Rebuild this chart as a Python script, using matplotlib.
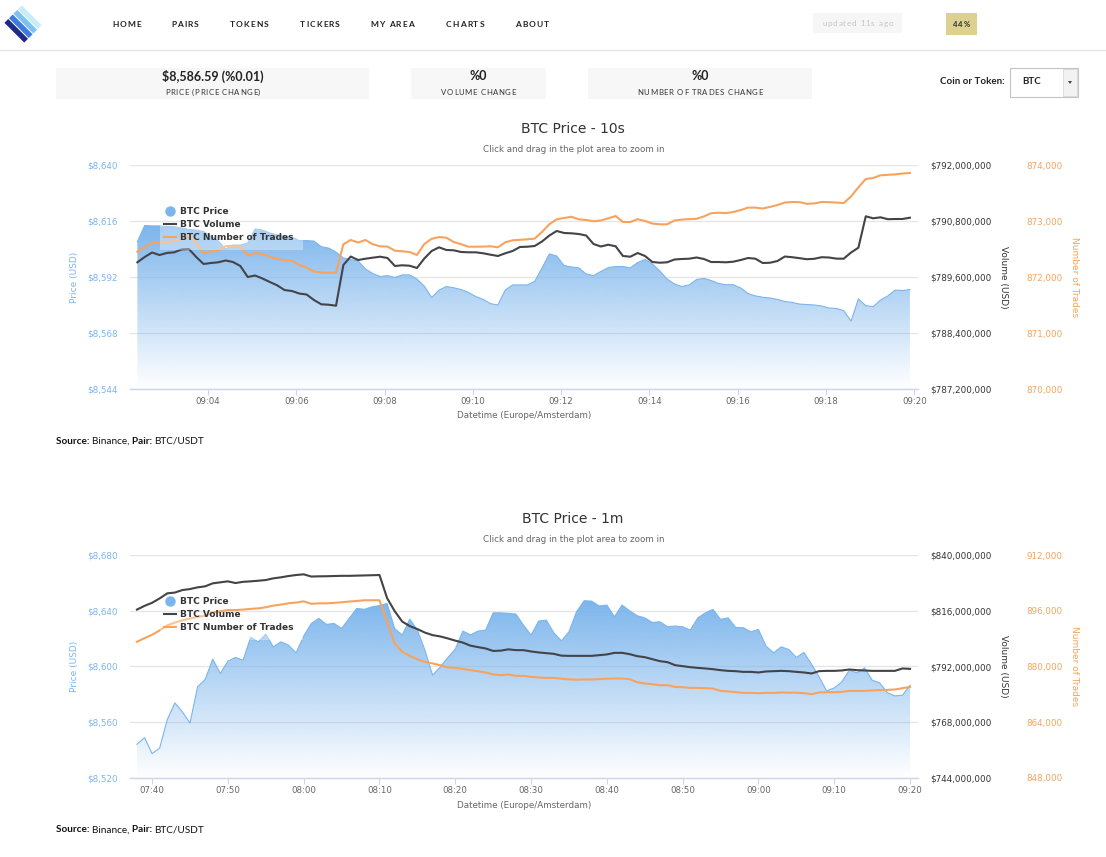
import matplotlib

matplotlib.use("Agg")
import matplotlib.dates as mdates
import matplotlib.pyplot as plt
import numpy as np
import pandas as pd
from matplotlib.colors import to_rgb
from matplotlib.lines import Line2D
from matplotlib.patches import Polygon, Rectangle
from matplotlib.ticker import FixedLocator, FuncFormatter

W, H = 1106, 857
PAGE_FONT = "Lato"
CHART_FONT = "DejaVu Sans"
PRICE_C = "#7cb5ec"
VOL_C = "#434348"
TRADES_C = "#f7a35c"

# ---- 10 second candles (09:02:24 .. 09:19:54) ----
top_start = "2020-02-21 09:02:24"
top_price = [
    8607.1, 8614.1, 8613.9, 8613.9, 8613.6, 8613.6, 8613.0, 8612.4, 8612.1, 8611.5,
    8609.6, 8607.4, 8604.0, 8605.7, 8605.7, 8606.6, 8612.6, 8612.1, 8610.9, 8610.0,
    8609.6, 8609.1, 8607.6, 8607.6, 8607.4, 8605.0, 8604.4, 8602.7, 8600.1, 8599.5,
    8598.9, 8595.4, 8593.5, 8592.2, 8592.6, 8591.8, 8592.9, 8592.9, 8591.1, 8588.1,
    8583.2, 8586.4, 8587.9, 8587.4, 8586.6, 8585.4, 8583.6, 8582.4, 8580.6, 8580.0,
    8586.4, 8588.6, 8588.6, 8588.6, 8590.1, 8595.9, 8601.9, 8601.0, 8596.9, 8596.3,
    8595.9, 8593.3, 8592.6, 8594.4, 8596.0, 8596.5, 8596.5, 8595.9, 8598.2, 8599.5,
    8597.6, 8594.6, 8591.1, 8589.0, 8587.9, 8588.6, 8590.9, 8591.4, 8590.5, 8589.2,
    8588.7, 8588.7, 8587.3, 8584.9, 8583.9, 8583.3, 8583.0, 8582.4, 8581.5, 8581.1,
    8580.4, 8580.2, 8580.0, 8579.6, 8578.7, 8578.5, 8577.6, 8573.1, 8582.6, 8579.7,
    8579.3, 8582.1, 8583.9, 8586.4, 8586.2, 8586.59,
]
top_volume_musd = [
    789.915, 790.029, 790.125, 790.071, 790.114, 790.129, 790.189, 790.200, 790.029, 789.879,
    789.900, 789.915, 789.954, 789.921, 789.836, 789.600, 789.632, 789.568, 789.493, 789.422,
    789.321, 789.300, 789.246, 789.225, 789.107, 789.015, 789.006, 788.985, 789.857, 790.039,
    789.964, 789.992, 790.014, 790.035, 790.007, 789.836, 789.851, 789.842, 789.793, 789.996,
    790.157, 790.236, 790.179, 790.172, 790.136, 790.129, 790.129, 790.108, 790.078, 790.050,
    790.108, 790.157, 790.243, 790.249, 790.264, 790.361, 790.489, 790.586, 790.543, 790.536,
    790.521, 790.489, 790.307, 790.254, 790.292, 790.258, 790.050, 790.035, 790.114, 790.050,
    789.921, 789.906, 789.915, 789.975, 789.986, 789.992, 790.018, 789.986, 789.921, 789.921,
    789.915, 789.928, 789.964, 790.007, 789.992, 789.900, 789.906, 789.943, 790.039, 790.024,
    790.003, 789.981, 789.990, 790.024, 790.018, 789.994, 789.992, 790.125, 790.228, 790.901,
    790.858, 790.879, 790.839, 790.843, 790.843, 790.871,
]
top_trades = [
    872452, 872527, 872607, 872607, 872620, 872648, 872670, 872755, 872598, 872423,
    872459, 872477, 872550, 872559, 872541, 872384, 872429, 872411, 872366, 872321,
    872302, 872291, 872214, 872170, 872098, 872080, 872077, 872077, 872584, 872661,
    872616, 872661, 872584, 872548, 872543, 872470, 872459, 872446, 872393, 872589,
    872682, 872714, 872702, 872625, 872586, 872541, 872541, 872543, 872548, 872530,
    872620, 872655, 872664, 872673, 872686, 872804, 872943, 873030, 873054, 873075,
    873030, 873018, 872996, 873009, 873048, 873089, 872982, 872982, 873032, 873000,
    872954, 872941, 872941, 873009, 873025, 873034, 873039, 873082, 873139, 873148,
    873141, 873161, 873196, 873239, 873239, 873223, 873252, 873286, 873329, 873339,
    873337, 873307, 873314, 873339, 873336, 873329, 873320, 873437, 873602, 873750,
    873768, 873816, 873825, 873832, 873848, 873857,
]

# ---- 1 minute candles (07:38 .. 09:20) ----
bot_start = "2020-02-21 07:38:00"
bot_price = [
    8544.2, 8549.0, 8537.5, 8541.5, 8561.9, 8573.9, 8567.4, 8559.5, 8585.4, 8590.7,
    8605.3, 8595.0, 8603.8, 8606.5, 8604.5, 8620.9, 8617.7, 8623.2, 8614.1, 8617.7,
    8615.3, 8609.8, 8621.8, 8630.9, 8634.5, 8630.2, 8630.9, 8627.3, 8634.5, 8641.7,
    8641.0, 8642.8, 8643.7, 8645.3, 8627.3, 8622.5, 8634.0, 8626.1, 8611.7, 8593.8,
    8599.5, 8606.3, 8612.5, 8625.4, 8622.7, 8625.4, 8626.1, 8638.5, 8638.5, 8638.1,
    8637.6, 8629.7, 8622.5, 8632.6, 8633.3, 8624.2, 8618.4, 8624.9, 8639.3, 8647.2,
    8646.9, 8643.4, 8644.1, 8635.7, 8644.1, 8640.0, 8636.4, 8634.9, 8631.6, 8632.1,
    8628.5, 8629.0, 8628.5, 8626.1, 8634.9, 8638.5, 8641.0, 8633.8, 8634.9, 8628.0,
    8627.8, 8624.9, 8626.6, 8614.6, 8609.8, 8614.1, 8612.2, 8606.5, 8610.1, 8601.7,
    8592.5, 8582.5, 8584.6, 8589.0, 8597.4, 8595.4, 8599.0, 8590.2, 8588.2, 8581.3,
    8578.9, 8579.4, 8586.59,
]
bot_volume_musd = [
    816.50, 818.10, 819.43, 821.33, 823.49, 823.83, 824.91, 825.34, 826.07, 826.51,
    827.80, 828.23, 828.66, 827.93, 828.45, 828.66, 828.92, 829.22, 829.95, 830.39,
    830.95, 831.38, 831.68, 830.73, 830.82, 830.86, 830.95, 831.03, 831.03, 831.12,
    831.20, 831.29, 831.38, 821.46, 815.86, 811.33, 809.39, 808.10, 806.59, 805.51,
    804.95, 804.09, 803.14, 802.28, 800.98, 800.34, 799.77, 798.70, 798.83, 799.39,
    799.04, 799.04, 798.48, 798.05, 797.75, 797.45, 796.67, 796.58, 796.58, 796.58,
    796.58, 796.89, 797.19, 797.88, 797.88, 797.32, 796.45, 796.02, 795.16, 794.30,
    793.87, 792.57, 792.14, 791.71, 791.41, 791.15, 790.85, 790.42, 790.12, 789.99,
    789.69, 789.69, 789.43, 789.86, 789.99, 790.12, 789.99, 789.69, 789.43, 789.00,
    789.99, 790.12, 790.12, 790.29, 790.72, 790.42, 790.29, 790.12, 790.12, 790.12,
    790.12, 791.15, 790.98,
]
bot_trades = [
    887082, 888146, 889094, 890359, 891796, 892600, 893262, 893750, 894267, 894526,
    895474, 895848, 896193, 896193, 896337, 896538, 896682, 896998, 897486, 897774,
    898147, 898348, 898693, 898004, 898119, 898119, 898262, 898435, 898636, 898808,
    899010, 899010, 899010, 892744, 886623, 884208, 883059, 882024, 881334, 880875,
    880386, 879725, 879610, 879323, 878949, 878662, 878288, 877713, 877512, 877713,
    877311, 877311, 877023, 876851, 876736, 876736, 876506, 876305, 876219, 876276,
    876276, 876362, 876506, 876564, 876564, 876362, 875500, 875127, 874925, 874638,
    874638, 874149, 874063, 873862, 873862, 873776, 873690, 873000, 872828, 872626,
    872425, 872425, 872339, 872425, 872425, 872540, 872482, 872482, 872339, 872051,
    872540, 872626, 872626, 872712, 873000, 873000, 873000, 873115, 873201, 873287,
    873402, 873776, 874149,
]

top_price_ticks = [8544, 8568, 8592, 8616, 8640]
top_vol_ticks = [787.2e6, 788.4e6, 789.6e6, 790.8e6, 792.0e6]
top_trade_ticks = [870000, 871000, 872000, 873000, 874000]
bot_price_ticks = [8520, 8560, 8600, 8640, 8680]
bot_vol_ticks = [744e6, 768e6, 792e6, 816e6, 840e6]
bot_trade_ticks = [848000, 864000, 880000, 896000, 912000]

nav_items = ["HOME", "PAIRS", "TOKENS", "TICKERS", "MY AREA", "CHARTS", "ABOUT"]
nav_x = [127, 185, 249, 320, 392, 465, 532]

fig = plt.figure(figsize=(W / 100, H / 100), dpi=100)
fig.patch.set_facecolor("white")
renderer = fig.canvas.get_renderer()


def fx(x):
    return x / W


def fy(y):
    return 1 - y / H


def rect(x0, y0, x1, y1, **kw):
    fig.add_artist(Rectangle((fx(x0), fy(y1)), (x1 - x0) / W, (y1 - y0) / H,
                             transform=fig.transFigure, **kw))


def text(x, y, s, **kw):
    kw.setdefault("ha", "center")
    kw.setdefault("va", "center")
    kw.setdefault("family", PAGE_FONT)
    return fig.text(fx(x), fy(y), s, **kw)


def tracked(xc, y, s, track, **kw):
    # letter-spaced text, drawn glyph by glyph on a common baseline
    base = y + kw["fontsize"] * 1.389 * 0.36
    widths = []
    for ch in s:
        if ch == " ":
            widths.append(kw["fontsize"] * 0.4)
            continue
        t = text(0, base, ch, ha="left", va="baseline", **kw)
        widths.append(t.get_window_extent(renderer).width)
        t.remove()
    x = xc - (sum(widths) + track * (len(s) - 1)) / 2
    for ch, w in zip(s, widths):
        if ch != " ":
            text(x, base, ch, ha="left", va="baseline", **kw)
        x += w + track


# ---------------- page header ----------------
logo_cols = ["#1d2a8c", "#3d7be0", "#7ec3f0", "#c8ecf9"]
cx, cy = 23, 24
for k, col in enumerate(logo_cols):
    off = (k - 1.5) * 6.4
    nx, ny = off / np.sqrt(2), -off / np.sqrt(2)
    dx, dy = 14 / np.sqrt(2), 14 / np.sqrt(2)
    wx, wy = 2.7 / np.sqrt(2), -2.7 / np.sqrt(2)
    pts = [(cx + nx - dx - wx, cy + ny - dy - wy), (cx + nx + dx - wx, cy + ny + dy - wy),
           (cx + nx + dx + wx, cy + ny + dy + wy), (cx + nx - dx + wx, cy + ny - dy + wy)]
    fig.add_artist(Polygon([(fx(a), fy(b)) for a, b in pts], closed=True,
                           transform=fig.transFigure, facecolor=col, edgecolor="none"))

for label, x in zip(nav_items, nav_x):
    tracked(x, 24, label, 1.0, fontsize=6, fontweight="bold", color="#222")

rect(813, 13, 902, 33, facecolor="#f6f6f6", edgecolor="none")
tracked(857.5, 23, "updated 11s ago", 0.8, fontsize=5.8, color="#c4c4c4")
rect(946, 13, 977, 35, facecolor="#dcd18e", edgecolor="none")
tracked(961.5, 24, "44%", 0.7, fontsize=5.5, fontweight="bold", color="#333")
fig.add_artist(Line2D([0, 1], [fy(50), fy(50)], transform=fig.transFigure, color="#e6e6e6", lw=1))

stat_boxes = [
    (56, 369, "$8,586.59 (%0.01)", "PRICE (PRICE CHANGE)"),
    (411, 546, "%0", "VOLUME CHANGE"),
    (588, 812, "%0", "NUMBER OF TRADES CHANGE"),
]
for x0, x1, big, small in stat_boxes:
    rect(x0, 68, x1, 99, facecolor="#f7f7f7", edgecolor="none")
    text((x0 + x1) / 2, 76, big, fontsize=9, fontweight="bold", color="#222")
    tracked((x0 + x1) / 2, 92, small, 0.6, fontsize=5.6, color="#333")

text(1005, 82, "Coin or Token:", ha="right", fontsize=7, fontweight="bold", color="#222")
rect(1010, 68, 1078, 97, facecolor="white", edgecolor="#c4c4c4", lw=0.8)
rect(1063, 69, 1077, 96, facecolor="#f2f2f2", edgecolor="#d0d0d0", lw=0.5)
text(1022, 82, "BTC", ha="left", fontsize=7, fontweight="bold", color="#222")
fig.add_artist(Polygon([(fx(1068), fy(81)), (fx(1072), fy(81)), (fx(1070), fy(84))],
                       transform=fig.transFigure, facecolor="#444", edgecolor="none"))


# ---------------- charts ----------------
def money(v, _):
    return f"${v:,.0f}"


def plain(v, _):
    return f"{v:,.0f}"


def draw_chart(top, bottom, title, start, freq, price, vol_musd, trades,
               p_ticks, v_ticks, t_ticks, pad_s, locator):
    times = pd.date_range(start, periods=len(price), freq=freq)
    xs = mdates.date2num(times.values)
    price = np.array(price)
    vol = np.array(vol_musd) * 1e6
    trades = np.array(trades)

    ax = fig.add_axes([fx(130), fy(bottom), (918 - 130) / W, (bottom - top) / H])
    ax.patch.set_visible(False)
    axv = ax.twinx()
    axt = ax.twinx()

    ymin, ymax = p_ticks[0], p_ticks[-1]
    poly = ax.fill_between(xs, price, ymin, facecolor="none", edgecolor="none")
    grad = np.zeros((256, 1, 4))
    grad[:, 0, :3] = to_rgb(PRICE_C)
    grad[:, 0, 3] = np.linspace(1.0, 0.0, 256)
    im = ax.imshow(grad, extent=[xs[0], xs[-1], ymin, price.max()], aspect="auto",
                   origin="upper", zorder=1, interpolation="bilinear")
    im.set_clip_path(poly.get_paths()[0], transform=ax.transData)
    ax.plot(xs, price, color=PRICE_C, lw=0.8, zorder=2)

    axv.plot(xs, vol, color=VOL_C, lw=1.5)
    axt.plot(xs, trades, color=TRADES_C, lw=1.5)

    ax.set_xlim(xs[0] - pad_s[0] / 86400, xs[-1] + pad_s[1] / 86400)
    ax.set_ylim(ymin, ymax)
    axv.set_ylim(v_ticks[0], v_ticks[-1])
    axt.set_ylim(t_ticks[0], t_ticks[-1])

    ax.yaxis.set_major_locator(FixedLocator(p_ticks))
    ax.yaxis.set_major_formatter(FuncFormatter(money))
    axv.yaxis.set_major_locator(FixedLocator(v_ticks))
    axv.yaxis.set_major_formatter(FuncFormatter(money))
    axt.yaxis.set_major_locator(FixedLocator(t_ticks))
    axt.yaxis.set_major_formatter(FuncFormatter(plain))

    ax.xaxis.set_major_locator(locator)
    ax.xaxis.set_major_formatter(mdates.DateFormatter("%H:%M"))

    for a in (ax, axv, axt):
        for s in a.spines.values():
            s.set_visible(False)
    ax.spines["bottom"].set_visible(True)
    ax.spines["bottom"].set_color("#ccd6eb")
    ax.spines["bottom"].set_linewidth(1)
    ax.set_axisbelow(True)
    ax.yaxis.grid(True, color="#e6e6e6", lw=1)

    ax.tick_params(axis="x", length=4, width=0.8, color="#ccd6eb", pad=1.5,
                   labelsize=6.2, labelcolor="#666")
    ax.tick_params(axis="y", length=0, pad=9, labelsize=6.3, labelcolor=PRICE_C)
    axv.tick_params(axis="y", length=0, pad=8.6, labelsize=6.3, labelcolor="#333")
    axt.tick_params(axis="y", length=0, pad=78, labelsize=6.3, labelcolor=TRADES_C)
    for a in (ax, axv, axt):
        for lab in a.get_xticklabels() + a.get_yticklabels():
            lab.set_family(CHART_FONT)

    mid = (top + bottom) / 2
    text(74, mid, "Price (USD)", rotation=90, fontsize=6.5, color=PRICE_C, family=CHART_FONT)
    text(1003, mid, "Volume (USD)", rotation=270, fontsize=6.5, color="#333", family=CHART_FONT)
    text(1074, mid, "Number of Trades", rotation=270, fontsize=6.5, color=TRADES_C,
         family=CHART_FONT)
    text(573, top - 36, title, fontsize=10, color="#333", family=CHART_FONT)
    text(574, top - 16, "Click and drag in the plot area to zoom in", fontsize=6.3,
         color="#666", family=CHART_FONT)
    text(524, bottom + 27, "Datetime (Europe/Amsterdam)", fontsize=6.3, color="#666",
         family=CHART_FONT)

    # translucent legend background, as in the dashboard
    axt.add_artist(Rectangle((fx(160), fy(top + 85)), 143 / W, 27 / H,
                             transform=fig.transFigure, facecolor="white", alpha=0.35,
                             edgecolor="none", zorder=4))
    handles = [
        Line2D([], [], marker="o", ls="none", markersize=6.5, color=PRICE_C),
        Line2D([], [], color=VOL_C, lw=1.5),
        Line2D([], [], color=TRADES_C, lw=1.5),
    ]
    leg = axt.legend(handles, ["BTC Price", "BTC Volume", "BTC Number of Trades"],
                     loc="upper left",
                     bbox_to_anchor=(fx(164), fy(top + 42)), bbox_transform=fig.transFigure,
                     frameon=False, handlelength=1.3, handletextpad=0.5, labelspacing=0.45,
                     borderpad=0, borderaxespad=0,
                     prop={"family": CHART_FONT, "weight": "bold", "size": 6.5})
    for t in leg.get_texts():
        t.set_color("#333")
    leg.set_zorder(5)

    # source line
    x = 56
    for s, w in [("Source: ", "bold"), ("Binance, ", "normal"), ("Pair: ", "bold"), ("BTC/USDT", "normal")]:
        t = text(x, bottom + 52, s, ha="left", fontsize=7.2, fontweight=w, color="#111")
        x += t.get_window_extent(renderer).width


draw_chart(165, 389, "BTC Price - 10s", top_start, "10s", top_price, top_volume_musd,
           top_trades, top_price_ticks, top_vol_ticks, top_trade_ticks, (10, 11),
           mdates.MinuteLocator(byminute=range(0, 60, 2)))
draw_chart(555, 778, "BTC Price - 1m", bot_start, "1min", bot_price, bot_volume_musd,
           bot_trades, bot_price_ticks, bot_vol_ticks, bot_trade_ticks, (55, 63),
           mdates.MinuteLocator(byminute=range(0, 60, 10)))

fig.savefig("out.png", dpi=100)
